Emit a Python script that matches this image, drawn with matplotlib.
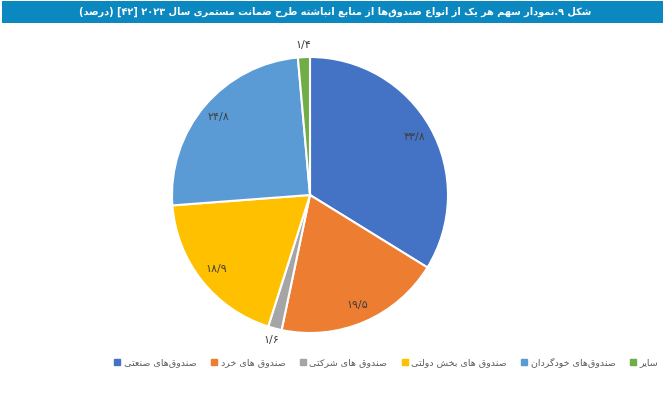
import re
import matplotlib
matplotlib.use('Agg')
import matplotlib.pyplot as plt
import numpy as np
from matplotlib.lines import Line2D
from matplotlib.patches import Rectangle

# Chart data
title_text = 'شکل ۹.نمودار سهم هر یک از انواع صندوق‌ها از منابع انباشته طرح ضمانت مستمری سال ۲۰۲۳ [۴۲] (درصد)'
categories = ['صندوق‌های صنعتی', 'صندوق های خرد', 'صندوق های شرکتی',
              'صندوق های بخش دولتی', 'صندوق‌های خودگردان', 'سایر']
shares = [33.8, 19.5, 1.6, 18.9, 24.8, 1.4]
colors = ['#4472C4', '#ED7D31', '#A5A5A5', '#FFC000', '#5B9BD5', '#70AD47']

# Minimal Arabic/Persian shaping: (isolated, final, initial, medial)
FORMS = {
    'ا': ('\uFE8D', '\uFE8E', None, None), 'آ': ('\uFE81', '\uFE82', None, None),
    'ب': ('\uFE8F', '\uFE90', '\uFE91', '\uFE92'), 'پ': ('\uFB56', '\uFB57', '\uFB58', '\uFB59'),
    'ت': ('\uFE95', '\uFE96', '\uFE97', '\uFE98'), 'ث': ('\uFE99', '\uFE9A', '\uFE9B', '\uFE9C'),
    'ج': ('\uFE9D', '\uFE9E', '\uFE9F', '\uFEA0'), 'چ': ('\uFB7A', '\uFB7B', '\uFB7C', '\uFB7D'),
    'ح': ('\uFEA1', '\uFEA2', '\uFEA3', '\uFEA4'), 'خ': ('\uFEA5', '\uFEA6', '\uFEA7', '\uFEA8'),
    'د': ('\uFEA9', '\uFEAA', None, None), 'ذ': ('\uFEAB', '\uFEAC', None, None),
    'ر': ('\uFEAD', '\uFEAE', None, None), 'ز': ('\uFEAF', '\uFEB0', None, None),
    'ژ': ('\uFB8A', '\uFB8B', None, None),
    'س': ('\uFEB1', '\uFEB2', '\uFEB3', '\uFEB4'), 'ش': ('\uFEB5', '\uFEB6', '\uFEB7', '\uFEB8'),
    'ص': ('\uFEB9', '\uFEBA', '\uFEBB', '\uFEBC'), 'ض': ('\uFEBD', '\uFEBE', '\uFEBF', '\uFEC0'),
    'ط': ('\uFEC1', '\uFEC2', '\uFEC3', '\uFEC4'), 'ظ': ('\uFEC5', '\uFEC6', '\uFEC7', '\uFEC8'),
    'ع': ('\uFEC9', '\uFECA', '\uFECB', '\uFECC'), 'غ': ('\uFECD', '\uFECE', '\uFECF', '\uFED0'),
    'ف': ('\uFED1', '\uFED2', '\uFED3', '\uFED4'), 'ق': ('\uFED5', '\uFED6', '\uFED7', '\uFED8'),
    'ک': ('\uFB8E', '\uFB8F', '\uFB90', '\uFB91'), 'گ': ('\uFB92', '\uFB93', '\uFB94', '\uFB95'),
    'ل': ('\uFEDD', '\uFEDE', '\uFEDF', '\uFEE0'), 'م': ('\uFEE1', '\uFEE2', '\uFEE3', '\uFEE4'),
    'ن': ('\uFEE5', '\uFEE6', '\uFEE7', '\uFEE8'), 'ه': ('\uFEE9', '\uFEEA', '\uFEEB', '\uFEEC'),
    'و': ('\uFEED', '\uFEEE', None, None), 'ی': ('\uFBFC', '\uFBFD', '\uFBFE', '\uFBFF'),
}
DIGITS = '0123456789۰۱۲۳۴۵۶۷۸۹'
MIRROR = str.maketrans('()[]', ')(][')


def shape(text):
    out = []
    for i, ch in enumerate(text):
        if ch not in FORMS:
            out.append(ch)
            continue
        f = FORMS[ch]
        prev = text[i - 1] if i > 0 else ''
        nxt = text[i + 1] if i + 1 < len(text) else ''
        join_prev = prev in FORMS and FORMS[prev][2] is not None
        join_next = f[2] is not None and nxt in FORMS
        if join_prev and join_next:
            out.append(f[3])
        elif join_prev:
            out.append(f[1])
        elif join_next:
            out.append(f[2])
        else:
            out.append(f[0])
    return ''.join(c for c in out if c != '\u200c')


def rtl(text):
    runs = re.findall(r'[%s]+(?:[/.][%s]+)*|[^%s]+' % (DIGITS, DIGITS, DIGITS), shape(text))
    vis = []
    for r in reversed(runs):
        vis.append(r if r[0] in DIGITS else r[::-1].translate(MIRROR))
    return ''.join(vis)


def fa_num(v):
    return f'{v:.1f}'.replace('.', '/').translate(str.maketrans('0123456789', '۰۱۲۳۴۵۶۷۸۹'))


plt.rcParams['font.family'] = ['DejaVu Sans']

fig = plt.figure(figsize=(6.67, 3.98), dpi=100)
W, H = 667, 398

# title bar
fig.patches.append(Rectangle((2 / W, 1 - 23 / H), 661 / W, 22 / H, transform=fig.transFigure,
                             facecolor='#0A88BF', edgecolor='none'))
title = fig.text(335 / W, 1 - 12 / H, rtl(title_text), color='white', fontsize=10,
                 fontweight='bold', ha='center', va='center')
# fit title to the width of the original heading (~517 px)
renderer = fig.canvas.get_renderer()
tw = title.get_window_extent(renderer).width
title.set_fontsize(10 * 517 / tw)

# pie
ax = fig.add_axes([137.5 / W, 30.5 / H, 345 / W, 345 / H])
wedges, _ = ax.pie(shares, colors=colors, startangle=90, counterclock=False,
                   wedgeprops=dict(edgecolor='white', linewidth=1.5))
ax.set_xlim(-1.25, 1.25)
ax.set_ylim(-1.25, 1.25)

for w, v in zip(wedges, shares):
    ang = np.deg2rad((w.theta1 + w.theta2) / 2)
    r = 1.09 if v < 3 else 0.87
    ax.text(r * np.cos(ang), r * np.sin(ang), fa_num(v), ha='center', va='center',
            fontsize=8, color='#404040')

# legend
handles = [Line2D([], [], marker='s', linestyle='none', markersize=4,
                  markerfacecolor=c, markeredgecolor=c) for c in colors]
fig.legend(handles, [rtl(c) for c in categories], ncol=6, loc='center',
           bbox_to_anchor=(386 / W, 1 - 362 / H), frameon=False, fontsize=6.8,
           handlelength=0.8, handletextpad=0.3, columnspacing=1.45, labelcolor='#595959')

fig.savefig('out.png', dpi=100)
